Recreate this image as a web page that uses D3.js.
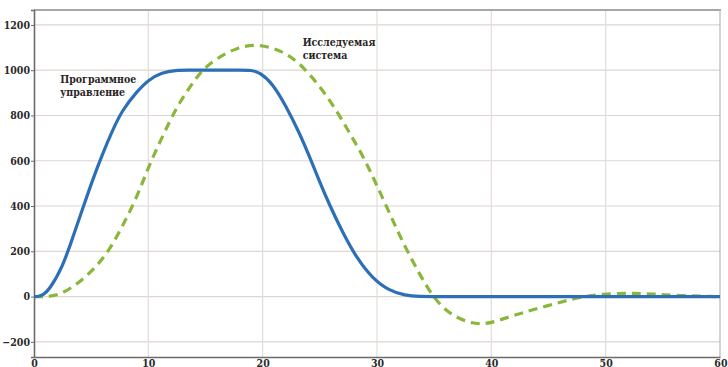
<!DOCTYPE html>
<html>
<head>
<meta charset="utf-8">
<script src="https://cdn.jsdelivr.net/npm/d3@7"></script>
<style>
  body { margin: 0; background: #fff; }
  svg { display: block; }
</style>
</head>
<body>
<div id="chart"></div>
<script>

var
  WIDTH = 728,
  HEIGHT = 367,
  SERIF = "DejaVu Serif Condensed, DejaVu Serif";

// time axis ticks and value axis ticks
var xTicks = [0, 10, 20, 30, 40, 50, 60];
var yTicks = [-200, 0, 200, 400, 600, 800, 1000, 1200];

// program control (solid blue)
var programT = [0, 0.4, 0.8, 1.3, 2.5, 3.35, 4.2, 5.1, 6, 6.9, 7.7, 8.9, 10, 11.2, 12.4, 13.5, 15, 16.5, 18, 19, 19.7, 20.9, 22, 23.2, 24.1, 25, 25.8, 27, 28.2, 29.6, 31.1, 32.5, 33.5, 36, 45, 60];
var programV = [0, 0, 8, 27, 130, 255, 380, 512, 632, 738, 822, 900, 958, 990, 1000, 1000, 1000, 1000, 1000, 1000, 992, 940, 845, 725, 618, 505, 410, 282, 172, 80, 25, 5, 0, 0, 0, 0];

// studied system (dashed green)
var systemT = [0, 0.5, 1, 2.2, 3.9, 5.4, 6.6, 7.7, 8.9, 9.8, 10.7, 11.8, 12.7, 13.9, 14.7, 15.9, 17.9, 19.7, 21.7, 23.2, 25, 26.4, 27.6, 28.8, 29.9, 31.1, 32.3, 33.7, 34.9, 36.3, 38.1, 39.4, 40.5, 41.9, 43.6, 46, 47.7, 49.8, 52.1, 54.1, 56.5, 59.4, 60];
var systemV = [0, 0, 0, 5, 58, 130, 205, 308, 427, 545, 650, 767, 856, 945, 1000, 1050, 1105, 1115, 1086, 1034, 930, 827, 723, 619, 501, 368, 234, 101, -3, -77, -118, -122, -108, -84, -59, -25, -3, 12, 15, 12, 4, 0, 0];

var labels = [
  {lines: ["Программное", "управление"], t: 2.3, v: 945},
  {lines: ["Исследуемая", "система"], t: 23.5, v: 1105}
];

function toPoints(ts, vs) {
  var pts = [];
  for (var i = 0 ; i < ts.length ; i++) {
    pts.push({t: ts[i], v: vs[i]});
  }
  return pts;
}

function drawChart() {
  var svg = d3.select("#chart")
    .append("svg")
    .attr("width", WIDTH)
    .attr("height", HEIGHT);

  var x = d3.scaleLinear().domain([0, 60]).range([34, 720]);
  var y = d3.scaleLinear().domain([-267, 1266]).range([357, 10]);

  // grid
  svg.append("g")
    .selectAll("line")
    .data(yTicks)
    .enter()
    .append("line")
    .attr("x1", x(0)).attr("x2", x(60))
    .attr("y1", function(d) { return y(d); })
    .attr("y2", function(d) { return y(d); })
    .attr("stroke", "#ddd6d2")
    .attr("stroke-width", 1.2);

  svg.append("g")
    .selectAll("line")
    .data(xTicks.slice(1, 6))
    .enter()
    .append("line")
    .attr("x1", function(d) { return x(d); })
    .attr("x2", function(d) { return x(d); })
    .attr("y1", y.range()[1]).attr("y2", y.range()[0])
    .attr("stroke", "#e2dddb")
    .attr("stroke-width", 1.2);

  // frame: top and right
  svg.append("line")
    .attr("x1", 34).attr("x2", 721)
    .attr("y1", 10).attr("y2", 10)
    .attr("stroke", "#aaa6a6").attr("stroke-width", 2);
  svg.append("line")
    .attr("x1", 720).attr("x2", 720)
    .attr("y1", 10).attr("y2", 357)
    .attr("stroke", "#b8b4b4").attr("stroke-width", 1.2);

  // axes
  var yAxis = d3.axisLeft(y)
    .tickValues(yTicks)
    .tickSize(3)
    .tickPadding(1)
    .tickFormat(d3.format("d"));
  var gy = svg.append("g")
    .attr("transform", "translate(34,0)")
    .call(yAxis);

  var xAxis = d3.axisBottom(x)
    .tickValues(xTicks)
    .tickSize(0)
    .tickFormat(d3.format("d"));
  var gx = svg.append("g")
    .attr("transform", "translate(0,357)")
    .call(xAxis);

  [gy, gx].forEach(function(g) {
    g.attr("font-family", SERIF)
      .attr("font-weight", "bold")
      .attr("font-size", 10.5);
    g.select(".domain").attr("stroke", "#6e6a6a").attr("stroke-width", 1.6);
    g.selectAll(".tick line").attr("stroke", "#6e6a6a");
    g.selectAll(".tick text").attr("fill", "#2a2a2a");
  });
  // bottom labels sit right on the lower edge
  gx.selectAll(".tick text")
    .attr("y", 9.5)
    .attr("dy", null);
  gx.selectAll(".tick text")
    .filter(function(d) { return d == 60; })
    .attr("text-anchor", "end")
    .attr("dx", 7);

  // curves
  var line = d3.line()
    .x(function(d) { return x(d.t); })
    .y(function(d) { return y(d.v); })
    .curve(d3.curveBasis);

  svg.append("path")
    .datum(toPoints(systemT, systemV))
    .attr("d", line)
    .attr("fill", "none")
    .attr("stroke", "#8ab73a")
    .attr("stroke-width", 3.2)
    .attr("stroke-dasharray", "9,6");

  svg.append("path")
    .datum(toPoints(programT, programV))
    .attr("d", line)
    .attr("fill", "none")
    .attr("stroke", "#2d6fb7")
    .attr("stroke-width", 3.2);

  // annotations
  labels.forEach(function(lbl) {
    var text = svg.append("text")
      .attr("x", x(lbl.t))
      .attr("y", y(lbl.v))
      .attr("fill", "#2a2525")
      .attr("font-family", SERIF)
      .attr("font-weight", "bold")
      .attr("font-size", 10.5);
    lbl.lines.forEach(function(s, i) {
      text.append("tspan")
        .attr("x", x(lbl.t))
        .attr("dy", i == 0 ? 0 : 13)
        .text(s);
    });
  });
}

drawChart();
</script>
</body>
</html>
